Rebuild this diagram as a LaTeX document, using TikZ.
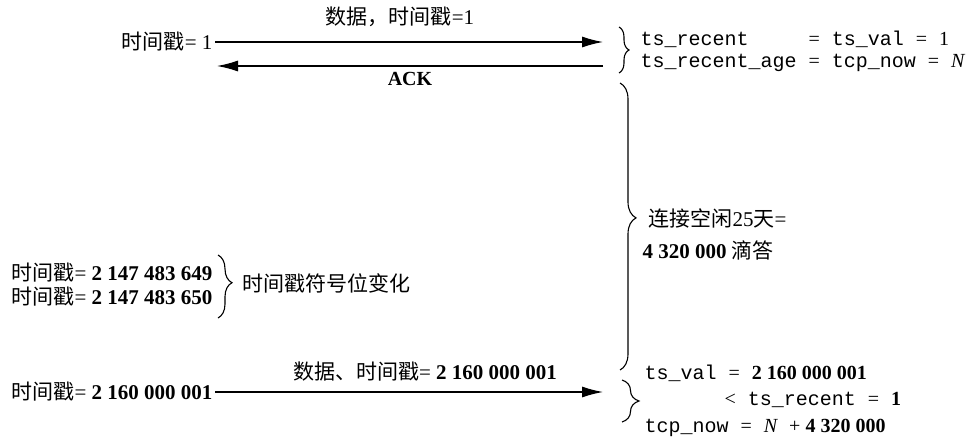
\documentclass[tikz,border=0pt]{standalone}
\usepackage{fontspec}
\setmainfont{Liberation Serif}
\setmonofont{Liberation Mono}
\newfontfamily\cjk{Noto Sans CJK SC}
\usetikzlibrary{arrows.meta,decorations.pathreplacing}
\tikzset{every picture/.style={line width=1.2pt}}
\tikzset{
  txt/.style={font=\fontsize{21}{26}\selectfont, inner sep=2pt},
  code/.style={txt, font=\fontsize{20}{26}\selectfont\ttfamily},
  msg/.style={-{Latex[length=21pt,width=11pt]}},
  brc/.style={decorate, decoration={brace, amplitude=#1}, line width=1.1pt},
  brc/.default=10pt,
}
\newcommand{\tsx}{{\cjk 时间戳}}
\newcommand{\eqs}{{\rmfamily =}}

\begin{document}
\begin{tikzpicture}[x=1pt,y=-1pt]
    \useasboundingbox (0,0) rectangle (967,439);
    % 第一个报文
    \node[txt, anchor=east] (snd1) at (215,42) {\tsx= 1};
    \coordinate (rcv1) at (603,42);
    \draw[msg] (snd1.east) -- (rcv1);
    \node[txt] (lab1) at (400,17) {{\cjk 数据，时间戳}=1};
    % ACK
    \coordinate (ackR) at (603,66);
    \coordinate (ackL) at (217,66);
    \draw[msg] (ackR) -- (ackL);
    \node[txt, font=\fontsize{20}{26}\selectfont\bfseries] (ack) at (410,79) {ACK};
    % 接收方状态
    \draw[brc] (619,27) -- (619,73);
    \node[code, anchor=west] (st1) at (638,51) {%
      \begin{tabular}{@{}l@{}l@{}}
        ts\_recent & \ \eqs{} ts\_val \eqs{} {\rmfamily 1}\\[-4pt]
        ts\_recent\_age & \ \eqs{} tcp\_now \eqs{} {\rmfamily\itshape N}
      \end{tabular}};
    % 空闲
    \draw[brc={16pt}, decoration={aspect=0.47}] (620,83) -- (620,370);
    \node[txt, anchor=west] (idle1) at (646,218) {{\cjk 连接空闲}25{\cjk 天}=};
    \node[txt, anchor=west] (idle2) at (640,250) {{\bfseries 4 320 000} {\cjk 滴答}};
    % 符号位变化
    \node[txt, anchor=east] (wrap1) at (215,273) {\tsx= {\bfseries 2 147 483 649}};
    \node[txt, anchor=east] (wrap2) at (215,297) {\tsx= {\bfseries 2 147 483 650}};
    \draw[brc={14pt}, decoration={aspect=0.44}] (218,255) -- (218,318);
    \node[txt, anchor=west] (sgn) at (240,283) {\cjk 时间戳符号位变化};
    % 第二个报文
    \node[txt, anchor=east] (snd2) at (215,392) {\tsx= {\bfseries 2 160 000 001}};
    \coordinate (rcv2) at (603,392);
    \draw[msg] (snd2.east) -- (rcv2);
    \node[txt] (lab2) at (425,372) {{\cjk 数据、时间戳}= {\bfseries 2 160 000 001}};
    % 拒绝
    \draw[brc={17pt}] (622,380) -- (622,422);
    \node[code, anchor=west] (chk1) at (642,373) {ts\_val \eqs{} {\rmfamily\bfseries 2 160 000 001}};
    \node[code, anchor=west] (chk2) at (722,400) {{\rmfamily <} ts\_recent \eqs{} {\rmfamily\bfseries 1}};
    \node[code, anchor=west] (chk3) at (642,428) {tcp\_now \eqs{} {\rmfamily\itshape N} {\rmfamily + \bfseries 4 320 000}};
\end{tikzpicture}
\end{document}
